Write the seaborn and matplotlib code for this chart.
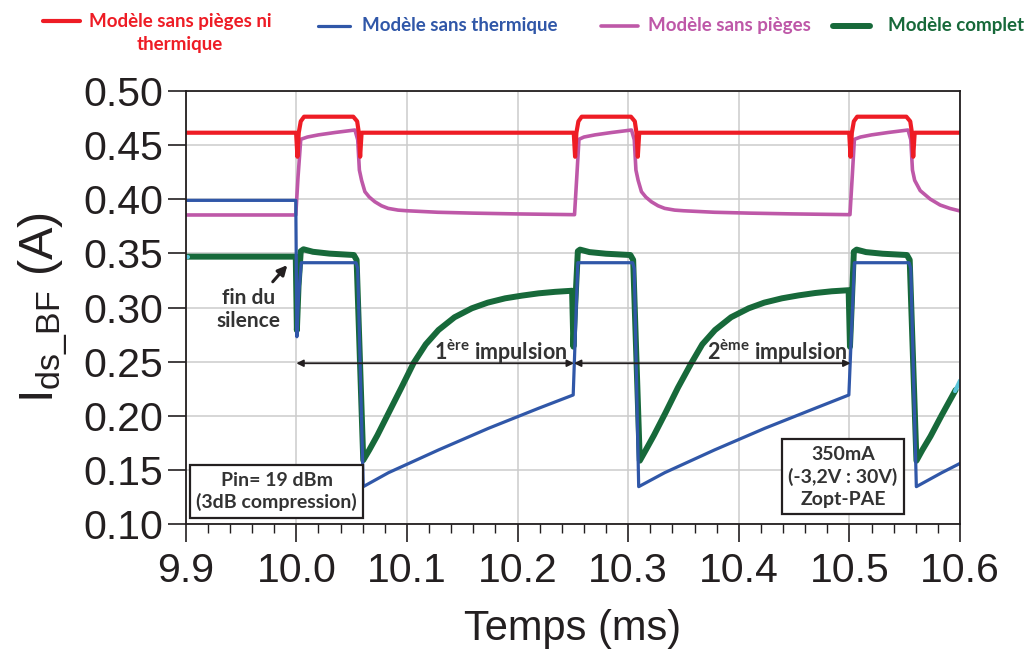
import matplotlib
matplotlib.use("Agg")
import matplotlib.pyplot as plt
import seaborn as sns
from matplotlib.lines import Line2D
from matplotlib.ticker import MultipleLocator

# ---------------- data ----------------
red_t = [9.900, 9.9998, 10.001, 10.0022, 10.004, 10.007, 10.0515, 10.055, 10.0565, 10.0577, 10.059,
         10.2508, 10.252, 10.2532, 10.255, 10.258, 10.3025, 10.306, 10.3075, 10.3087, 10.310,
         10.4998, 10.501, 10.5022, 10.504, 10.507, 10.5515, 10.555, 10.5565, 10.5577, 10.559, 10.600]
red_v = [0.4615, 0.4615, 0.4393, 0.4615, 0.4720, 0.4763, 0.4763, 0.4720, 0.4615, 0.4393, 0.4615,
         0.4615, 0.4393, 0.4615, 0.4720, 0.4763, 0.4763, 0.4720, 0.4615, 0.4393, 0.4615,
         0.4615, 0.4393, 0.4615, 0.4720, 0.4763, 0.4763, 0.4720, 0.4615, 0.4393, 0.4615, 0.4615]

mag_t = [9.900, 9.9995, 10.0015, 10.004, 10.010, 10.020, 10.035, 10.053, 10.0555, 10.057, 10.059,
         10.062, 10.066, 10.071, 10.077, 10.083, 10.092, 10.100, 10.128, 10.160, 10.198, 10.250,
         10.2515, 10.2535, 10.2555, 10.260, 10.270, 10.285, 10.303, 10.3055, 10.307, 10.309,
         10.312, 10.316, 10.321, 10.327, 10.333, 10.342, 10.350, 10.378, 10.410, 10.448, 10.4995,
         10.5005, 10.5025, 10.5045, 10.510, 10.520, 10.535, 10.553, 10.5555, 10.557, 10.559,
         10.564, 10.573, 10.582, 10.591, 10.600]
mag_v = [0.3855, 0.3855, 0.4200, 0.4554, 0.4575, 0.4595, 0.4617, 0.4640, 0.4550, 0.4270, 0.4175,
         0.4070, 0.4020, 0.3977, 0.3940, 0.3916, 0.3900, 0.3894, 0.3880, 0.3872, 0.3865, 0.3858,
         0.3858, 0.4200, 0.4554, 0.4575, 0.4595, 0.4617, 0.4640, 0.4550, 0.4270, 0.4175,
         0.4070, 0.4020, 0.3977, 0.3940, 0.3916, 0.3900, 0.3894, 0.3880, 0.3872, 0.3865, 0.3858,
         0.3858, 0.4200, 0.4554, 0.4575, 0.4595, 0.4617, 0.4640, 0.4550, 0.4270, 0.4175,
         0.4080, 0.4002, 0.3947, 0.3915, 0.3892]

blue_t = [9.900, 9.9995, 10.0005, 10.002, 10.0045, 10.054, 10.0555, 10.0605, 10.0833, 10.1285,
          10.1737, 10.219, 10.2503, 10.2545, 10.304, 10.3055, 10.3095, 10.333, 10.378, 10.4235,
          10.469, 10.4995, 10.5045, 10.554, 10.5555, 10.5605, 10.5835, 10.600]
blue_v = [0.3990, 0.3990, 0.2730, 0.3100, 0.3414, 0.3414, 0.3360, 0.1345, 0.1474, 0.1684,
          0.1884, 0.2069, 0.2192, 0.3414, 0.3414, 0.3360, 0.1345, 0.1474, 0.1684, 0.1884,
          0.2069, 0.2192, 0.3414, 0.3414, 0.3360, 0.1345, 0.1474, 0.1560]

green_t = [9.9015, 9.9995, 10.0005, 10.002, 10.004, 10.0065, 10.015, 10.030, 10.052, 10.0545, 10.0605,
           10.066, 10.0733, 10.0833, 10.095, 10.1059, 10.117, 10.1285, 10.143, 10.1587, 10.173,
           10.1888, 10.204, 10.219, 10.234, 10.2493,
           10.2505, 10.252, 10.2545, 10.2565, 10.265, 10.280, 10.302, 10.3045, 10.3105,
           10.316, 10.3233, 10.3335, 10.345, 10.357, 10.367, 10.3785, 10.393, 10.409, 10.423,
           10.439, 10.454, 10.469, 10.484, 10.4993,
           10.5005, 10.502, 10.504, 10.5065, 10.515, 10.530, 10.552, 10.5545, 10.5606,
           10.566, 10.5733, 10.5833, 10.596]
green_v = [0.3470, 0.3470, 0.2790, 0.3200, 0.3520, 0.3538, 0.3515, 0.3498, 0.3485, 0.3440, 0.1590,
           0.1685, 0.1820, 0.2023, 0.2260, 0.2485, 0.2660, 0.2792, 0.2910, 0.2993, 0.3045,
           0.3085, 0.3110, 0.3131, 0.3145, 0.3155,
           0.2638, 0.3000, 0.3520, 0.3535, 0.3512, 0.3497, 0.3485, 0.3440, 0.1585,
           0.1685, 0.1820, 0.2023, 0.2260, 0.2485, 0.2660, 0.2792, 0.2910, 0.2993, 0.3045,
           0.3085, 0.3112, 0.3134, 0.3150, 0.3160,
           0.2638, 0.3000, 0.3516, 0.3535, 0.3512, 0.3497, 0.3485, 0.3440, 0.1585,
           0.1685, 0.1810, 0.2003, 0.2238]

cyan_end_t = [10.5955, 10.600]
cyan_end_v = [0.2228, 0.2325]
cyan_start_t = [9.900, 9.9025]
cyan_start_v = [0.3470, 0.3470]

x_ticks = [9.9, 10.0, 10.1, 10.2, 10.3, 10.4, 10.5, 10.6]
x_labels = ["9.9", "10.0", "10.1", "10.2", "10.3", "10.4", "10.5", "10.6"]
y_ticks = [0.10, 0.15, 0.20, 0.25, 0.30, 0.35, 0.40, 0.45, 0.50]
y_labels = ["0.10", "0.15", "0.20", "0.25", "0.30", "0.35", "0.40", "0.45", "0.50"]

series_names = ["Modèle sans pièges ni\nthermique", "Modèle sans thermique",
                "Modèle sans pièges", "Modèle complet"]

# ---------------- style ----------------
RED = "#EE1C25"
BLUE = "#3057A8"
MAG = "#BE58A8"
GREEN = "#17693A"
CYAN = "#5BC5D9"
DARK = "#231F20"
TXT = "#333333"

sns.set_theme(style="white")
plt.rcParams['font.family'] = ['Liberation Sans', 'DejaVu Sans']
plt.rcParams['mathtext.fontset'] = 'custom'
plt.rcParams['mathtext.rm'] = 'Liberation Sans'
plt.rcParams['mathtext.it'] = 'Liberation Sans:italic'
plt.rcParams['mathtext.bf'] = 'Lato:bold'

fig = plt.figure(figsize=(10.26, 6.55), dpi=100)
ax = fig.add_axes([0.181, 0.2, 0.7547, 0.661])

kw = dict(ax=ax, sort=False, estimator=None, legend=False)
sns.lineplot(x=mag_t, y=mag_v, color=MAG, linewidth=2.6, **kw)
sns.lineplot(x=red_t, y=red_v, color=RED, linewidth=3.0, **kw)
sns.lineplot(x=green_t, y=green_v, color=GREEN, linewidth=4.3, **kw)
sns.lineplot(x=blue_t, y=blue_v, color=BLUE, linewidth=2.3, **kw)
sns.lineplot(x=cyan_end_t, y=cyan_end_v, color=CYAN, linewidth=3.0, **kw)
sns.lineplot(x=cyan_start_t, y=cyan_start_v, color=CYAN, linewidth=3.0, **kw)

ax.set_xlim(9.9, 10.6)
ax.set_ylim(0.10, 0.50)
ax.set_xticks(x_ticks)
ax.set_xticklabels(x_labels)
ax.set_yticks(y_ticks)
ax.set_yticklabels(y_labels)
ax.xaxis.set_minor_locator(MultipleLocator(0.02))
ax.grid(True, which='major', color='#CCCCCC', linewidth=1.1)
ax.grid(False, which='minor')
ax.set_axisbelow(True)

ax.tick_params(axis='x', which='major', direction='out', length=13, width=1.2,
               pad=7, labelsize=29.5, colors=DARK, bottom=True, top=False)
ax.tick_params(axis='x', which='minor', direction='out', length=6.5, width=1.0,
               color=DARK, bottom=True, top=False)
ax.tick_params(axis='y', which='major', direction='out', length=13, width=1.2,
               pad=3, labelsize=29.5, colors=DARK, left=True, right=False)
for sp in ax.spines.values():
    sp.set_color(DARK)
    sp.set_linewidth(1.3)

ax.set_xlabel("Temps (ms)", fontsize=30, color=DARK, labelpad=14)
ax.set_ylabel(r"I$_{\mathrm{ds\_BF}}$ (A)", fontsize=35, color=DARK, labelpad=10)

# ---------------- annotations ----------------
ax.annotate("", xy=(9.9919, 0.3392), xytext=(9.9787, 0.3238),
            arrowprops=dict(arrowstyle='-|>', color=DARK, lw=2.2, mutation_scale=14,
                            shrinkA=0, shrinkB=0))
ax.text(9.957, 0.298, "fin du\nsilence", ha='center', va='center', fontsize=15,
        fontweight='bold', family='Lato', color=TXT, linespacing=1.15)

for a, b in [(10.0, 10.251), (10.251, 10.501)]:
    ax.annotate("", xy=(a, 0.2485), xytext=(b, 0.2485),
                arrowprops=dict(arrowstyle='<|-|>', color=DARK, lw=1.3, mutation_scale=10,
                                shrinkA=0, shrinkB=0))
ax.text(10.2455, 0.2512, r"1$^{\mathbf{ère}}$ impulsion", ha='right', va='baseline',
        fontsize=15.5, fontweight='bold', family='Lato', color=TXT)
ax.text(10.4985, 0.2512, r"2$^{\mathbf{ème}}$ impulsion", ha='right', va='baseline',
        fontsize=15.5, fontweight='bold', family='Lato', color=TXT)

box = dict(boxstyle='square,pad=0.33', facecolor='white', edgecolor=DARK, linewidth=1.6)
ax.text(9.9821, 0.130, "Pin= 19 dBm\n(3dB compression)", ha='center', va='center',
        fontsize=14, fontweight='bold', family='Lato', color=TXT, bbox=box, linespacing=1.3)
ax.text(10.4941, 0.1437, "350mA\n(-3,2V : 30V)\nZopt-PAE", ha='center', va='center',
        fontsize=14, fontweight='bold', family='Lato', color=TXT, bbox=box, linespacing=1.35)

# ---------------- legend (top row) ----------------
W, H = 1026.0, 655.0
legend_items = [
    (series_names[0], RED, 3.0, 43, 80, 21, 180, 'center'),
    (series_names[1], BLUE, 2.3, 318, 350, 26, 362, 'left'),
    (series_names[2], MAG, 2.6, 601, 638, 26, 648, 'left'),
    (series_names[3], GREEN, 4.3, 833, 870, 26, 888, 'left'),
]
for name, col, lw, x1, x2, yl, xt, ha in legend_items:
    fig.add_artist(Line2D([x1 / W, x2 / W], [1 - yl / H, 1 - yl / H], color=col, linewidth=lw))
    if '\n' in name:
        fig.text(xt / W, 1 - 33 / H, name, ha='center', va='center', fontsize=13.5,
                 fontweight='bold', family='Lato', color=col, linespacing=1.45)
    else:
        fig.text(xt / W, 1 - yl / H, name, ha='left', va='center', fontsize=13.5,
                 fontweight='bold', family='Lato', color=col)

fig.savefig("out.png", dpi=100)
